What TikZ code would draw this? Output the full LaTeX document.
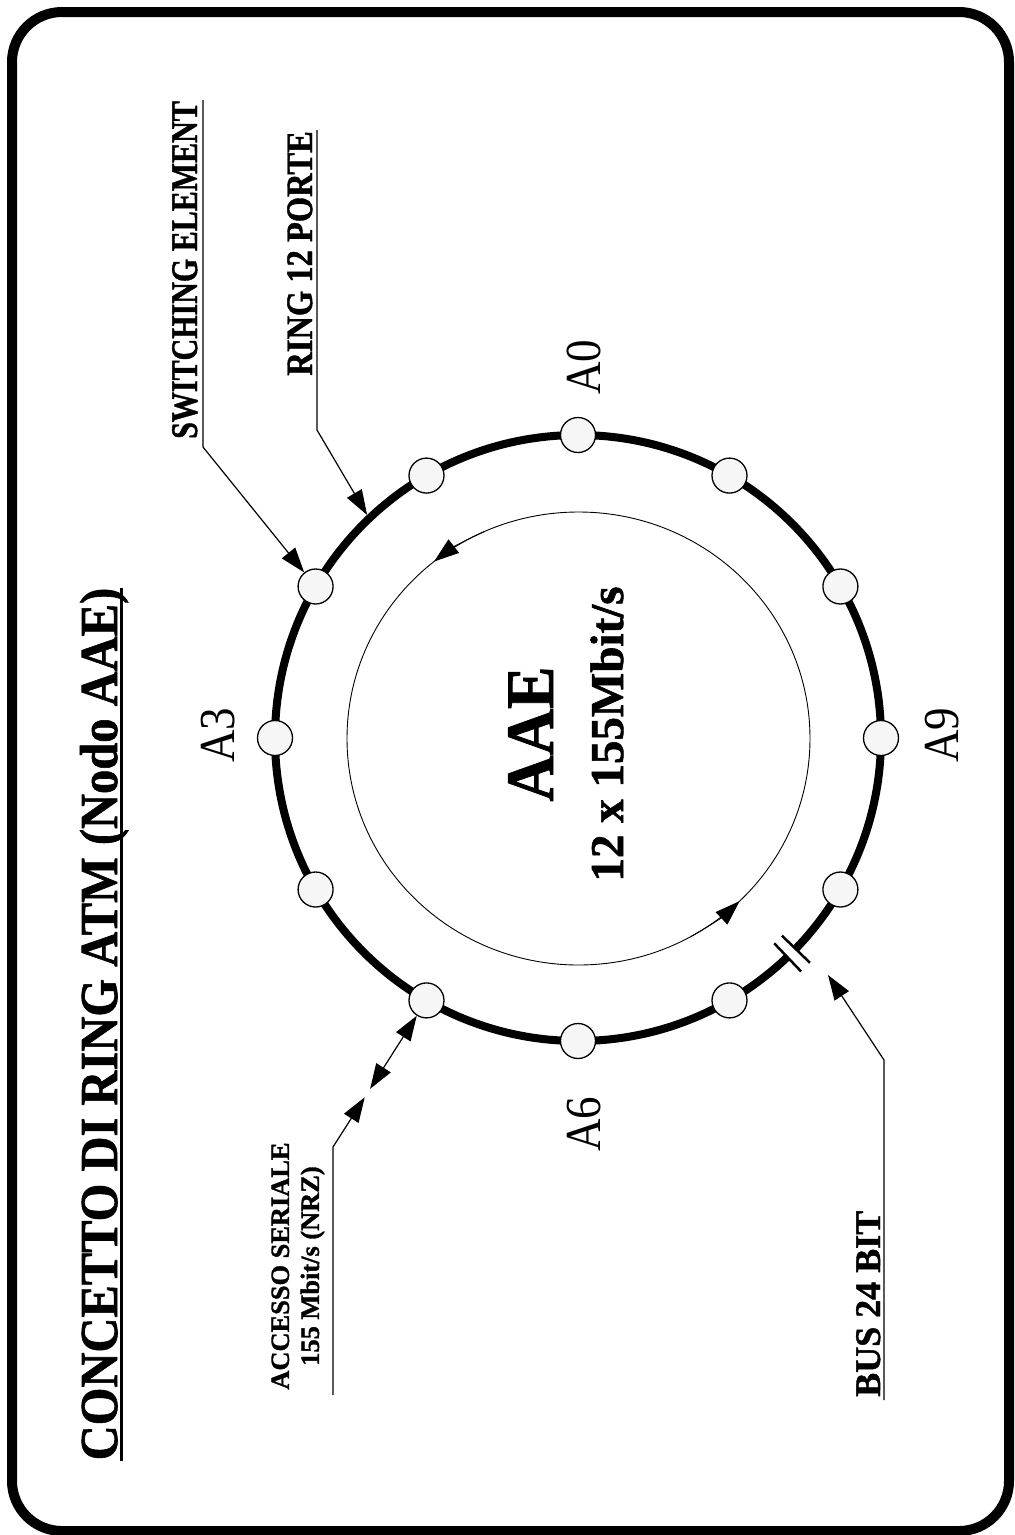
\documentclass[tikz,border=0pt]{standalone}
\usepackage{fontspec}
\setmainfont{Liberation Serif}[BoldFeatures={FakeBold=1.2}]
\usetikzlibrary{arrows.meta,calc}
\definecolor{portfill}{RGB}{246,246,246}
\newcommand\vstretch[2]{\scalebox{1}[#1]{#2}}
\begin{document}
\begin{tikzpicture}[x=1pt,y=-1pt,
  port/.style={circle,draw=black,line width=1.3pt,fill=portfill,minimum size=35pt,inner sep=0pt},
  lbl/.style={rotate=90,inner sep=0pt,font=\bfseries\fontsize{30}{36}\selectfont},
  alabel/.style={rotate=90,inner sep=0pt,anchor=base,font=\fontsize{45}{50}\selectfont},
  lead/.style={line width=1.2pt},
  tipend/.style={-{Triangle[length=25pt,width=17pt]}},
  tipboth/.style={{Triangle[length=25pt,width=17pt]}-{Triangle[length=25pt,width=17pt]}},
]
\useasboundingbox (0,0) rectangle (1015,1535);
% frame
\draw[line width=10pt, rounded corners=50pt] (12,12) rectangle (1009,1531);
% title
\node[rotate=90,inner sep=0pt,anchor=base,font=\bfseries\fontsize{48.5}{56}\selectfont] (title) at (117,1024) {\vstretch{1.1}{CONCETTO DI RING ATM (Nodo AAE)}};
\draw[line width=3pt] ($(title.base west)+(4,0)$) -- ($(title.base east)+(4,0)$);
% inner ellipse with flow arrows
\coordinate (IC) at (578.5,738.5);
\draw[line width=0.9pt] (IC) ellipse[x radius=231.5,y radius=226.5];
\draw[line width=0.9pt,tipend] ([shift={(578.5,738.5)}]246:231.5 and 226.5) arc[start angle=246,end angle=231.4,x radius=231.5,y radius=226.5];
\draw[line width=0.9pt,tipend] ([shift={(578.5,738.5)}]61:231.5 and 226.5) arc[start angle=61,end angle=45.9,x radius=231.5,y radius=226.5];
% ring
\coordinate (RC) at (578,738);
\draw[line width=8pt] (RC) circle[radius=303];
% bus break
\draw[white,line width=10pt] ([shift={(578,738)}]44.1:303) arc[start angle=44.1,end angle=46.3,radius=303];
\draw[line width=2.5pt] ([shift={(578,738)}]44.1:284) -- ([shift={(578,738)}]44.1:323);
\draw[line width=2.5pt] ([shift={(578,738)}]46.3:284) -- ([shift={(578,738)}]46.3:323);
% ports
\foreach \n in {0,...,11} {
  \pgfmathsetmacro\ang{270-30*\n}
  \node[port] (p\n) at ([shift={(578,738)}]\ang:303) {};
}
% port labels
\node[alabel] (a0) at (600,367) {\vstretch{1.12}{A0}};
\node[alabel] (a3) at (234,735) {\vstretch{1.12}{A3}};
\node[alabel] (a6) at (600,1124) {\vstretch{1.12}{A6}};
\node[alabel] (a9) at (958,735) {\vstretch{1.12}{A9}};
% center text
\node[rotate=90,inner sep=0pt,anchor=base,font=\bfseries\fontsize{64}{70}\selectfont] (aae) at (553,734) {\vstretch{1.06}{AAE}};
\node[rotate=90,inner sep=0pt,anchor=base,font=\bfseries\fontsize{47}{54}\selectfont] (rate) at (623,734) {12 x 155Mbit/s};
% switching element
\node[lbl,anchor=base east] (sw) at (197,101) {\vstretch{1.25}{SWITCHING ELEMENT}};
\coordinate (swtop) at (203,100);
\coordinate (swc) at (203,447);
\draw[lead,tipend] (swtop) -- (swc) -- (p2);
% ring 12 porte
\node[lbl,anchor=base east,font=\bfseries\fontsize{32.5}{38}\selectfont] (rg) at (312,131) {\vstretch{1.15}{RING 12 PORTE}};
\coordinate (rtop) at (317,130);
\coordinate (rc) at (317,430);
\coordinate (rpt) at ([shift={(578,738)}]226.6:307);
\draw[lead,tipend] (rtop) -- (rc) -- (rpt);
% bus 24 bit
\node[lbl,anchor=base west,font=\bfseries\fontsize{36}{40}\selectfont] (bus) at (880,1397) {BUS 24 BIT};
\coordinate (bbot) at (884,1400);
\coordinate (bc) at (884,1060);
\coordinate (bpt) at (828,975);
\draw[lead,tipend] (bbot) -- (bc) -- (bpt);
% accesso seriale
\node[lbl,align=center,font=\bfseries\fontsize{26.4}{30}\selectfont] (acc) at (298,1266) {ACCESSO SERIALE\\155 Mbit/s (NRZ)};
\coordinate (abot) at (333,1395);
\coordinate (ac) at (333,1147);
\coordinate (a1) at ($(ac)!59pt!(p5)$);
\coordinate (a2) at ($(ac)!69pt!(p5)$);
\draw[lead,tipend] (abot) -- (ac) -- (a1);
\draw[lead,tipboth] (a2) -- (p5);
\end{tikzpicture}
\end{document}
